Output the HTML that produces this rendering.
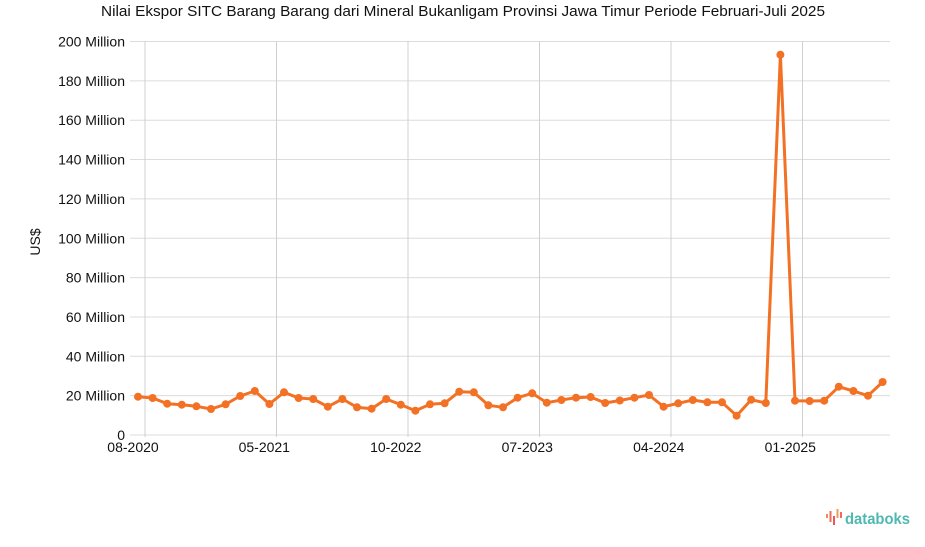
<!DOCTYPE html>
<html><head><meta charset="utf-8"><style>
html,body{margin:0;padding:0;background:#fff;}
svg{display:block;font-family:"Liberation Sans",sans-serif;}
</style></head><body>
<svg width="925" height="547" viewBox="0 0 925 547" xmlns="http://www.w3.org/2000/svg">
<rect width="925" height="547" fill="#fff"/>
<text x="463" y="16" font-size="14.5" text-anchor="middle" fill="#111" textLength="724" lengthAdjust="spacingAndGlyphs">Nilai Ekspor SITC Barang Barang dari Mineral Bukanligam Provinsi Jawa Timur Periode Februari-Juli 2025</text>
<g stroke="#dcdcdc" stroke-width="1">
<line x1="130" x2="890" y1="41.5" y2="41.5"/>
<line x1="130" x2="890" y1="80.85" y2="80.85"/>
<line x1="130" x2="890" y1="120.2" y2="120.2"/>
<line x1="130" x2="890" y1="159.55" y2="159.55"/>
<line x1="130" x2="890" y1="198.9" y2="198.9"/>
<line x1="130" x2="890" y1="238.25" y2="238.25"/>
<line x1="130" x2="890" y1="277.6" y2="277.6"/>
<line x1="130" x2="890" y1="316.95" y2="316.95"/>
<line x1="130" x2="890" y1="356.3" y2="356.3"/>
<line x1="130" x2="890" y1="395.65" y2="395.65"/>
<line x1="130" x2="890" y1="435" y2="435"/>
</g>
<g stroke="#d0d0d0" stroke-width="1">
<line x1="145" x2="145" y1="41.5" y2="437"/>
<line x1="276.5" x2="276.5" y1="41.5" y2="437"/>
<line x1="408" x2="408" y1="41.5" y2="437"/>
<line x1="539.5" x2="539.5" y1="41.5" y2="437"/>
<line x1="671" x2="671" y1="41.5" y2="437"/>
<line x1="802.5" x2="802.5" y1="41.5" y2="437"/>
</g>
<g font-size="14" fill="#111" text-anchor="end">
<text x="125" y="46.5">200 Million</text>
<text x="125" y="85.85">180 Million</text>
<text x="125" y="125.2">160 Million</text>
<text x="125" y="164.55">140 Million</text>
<text x="125" y="203.9">120 Million</text>
<text x="125" y="243.25">100 Million</text>
<text x="125" y="282.6">80 Million</text>
<text x="125" y="321.95">60 Million</text>
<text x="125" y="361.3">40 Million</text>
<text x="125" y="400.65">20 Million</text>
<text x="125" y="440">0</text>
</g>
<text transform="translate(40,242) rotate(-90)" font-size="14" fill="#111" text-anchor="middle">US$</text>
<g font-size="14" fill="#111" text-anchor="middle">
<text x="133" y="452">08-2020</text>
<text x="264.3" y="452">05-2021</text>
<text x="395.8" y="452">10-2022</text>
<text x="527.3" y="452">07-2023</text>
<text x="658.8" y="452">04-2024</text>
<text x="790.3" y="452">01-2025</text>
</g>
<polyline fill="none" stroke="#f37124" stroke-width="3" stroke-linejoin="round" points="138,396.7 152.6,398 167.2,403.7 181.8,404.7 196.4,406.3 211,409 225.6,404.3 240.2,396 254.8,391 269.4,404 284,392.3 298.6,398 313.2,399 327.8,406.7 342.4,399 357,407.3 371.6,408.7 386.2,399 400.8,404.7 415.4,410.7 430,404.3 444.6,403.3 459.2,391.7 473.8,392.3 488.4,405.3 503,407.3 517.6,397.7 532.2,393.3 546.8,402.7 561.4,400 576,397.7 590.6,397 605.2,403 619.8,400.5 634.4,397.7 649,395 663.6,406.7 678.2,403.3 692.8,400 707.4,402.3 722,402.3 736.6,415.7 751.2,399.7 765.8,403 780.4,54.7 795,400.7 809.6,401 824.2,400.7 838.8,386.7 853.4,391 868,395.7 882.6,382"/>
<g fill="#f37124">
<circle cx="138" cy="396.7" r="4"/><circle cx="152.6" cy="398" r="4"/><circle cx="167.2" cy="403.7" r="4"/><circle cx="181.8" cy="404.7" r="4"/><circle cx="196.4" cy="406.3" r="4"/><circle cx="211" cy="409" r="4"/><circle cx="225.6" cy="404.3" r="4"/><circle cx="240.2" cy="396" r="4"/><circle cx="254.8" cy="391" r="4"/><circle cx="269.4" cy="404" r="4"/><circle cx="284" cy="392.3" r="4"/><circle cx="298.6" cy="398" r="4"/><circle cx="313.2" cy="399" r="4"/><circle cx="327.8" cy="406.7" r="4"/><circle cx="342.4" cy="399" r="4"/><circle cx="357" cy="407.3" r="4"/><circle cx="371.6" cy="408.7" r="4"/><circle cx="386.2" cy="399" r="4"/><circle cx="400.8" cy="404.7" r="4"/><circle cx="415.4" cy="410.7" r="4"/><circle cx="430" cy="404.3" r="4"/><circle cx="444.6" cy="403.3" r="4"/><circle cx="459.2" cy="391.7" r="4"/><circle cx="473.8" cy="392.3" r="4"/><circle cx="488.4" cy="405.3" r="4"/><circle cx="503" cy="407.3" r="4"/><circle cx="517.6" cy="397.7" r="4"/><circle cx="532.2" cy="393.3" r="4"/><circle cx="546.8" cy="402.7" r="4"/><circle cx="561.4" cy="400" r="4"/><circle cx="576" cy="397.7" r="4"/><circle cx="590.6" cy="397" r="4"/><circle cx="605.2" cy="403" r="4"/><circle cx="619.8" cy="400.5" r="4"/><circle cx="634.4" cy="397.7" r="4"/><circle cx="649" cy="395" r="4"/><circle cx="663.6" cy="406.7" r="4"/><circle cx="678.2" cy="403.3" r="4"/><circle cx="692.8" cy="400" r="4"/><circle cx="707.4" cy="402.3" r="4"/><circle cx="722" cy="402.3" r="4"/><circle cx="736.6" cy="415.7" r="4"/><circle cx="751.2" cy="399.7" r="4"/><circle cx="765.8" cy="403" r="4"/><circle cx="780.4" cy="54.7" r="4"/><circle cx="795" cy="400.7" r="4"/><circle cx="809.6" cy="401" r="4"/><circle cx="824.2" cy="400.7" r="4"/><circle cx="838.8" cy="386.7" r="4"/><circle cx="853.4" cy="391" r="4"/><circle cx="868" cy="395.7" r="4"/><circle cx="882.6" cy="382" r="4"/>
</g>
<g>
<rect x="826" y="514" width="2" height="4" fill="#f08a5d"/>
<rect x="829.5" y="511" width="2" height="11" fill="#ee6c5a"/>
<rect x="833" y="516" width="2" height="9" fill="#e85a5a"/>
<rect x="836.5" y="509" width="2" height="9" fill="#f29a5c"/>
<rect x="840" y="512" width="2" height="6" fill="#ee6c5a"/>
<text x="845" y="524" font-size="15.5" font-weight="bold" fill="#4fb8b2" textLength="65" lengthAdjust="spacingAndGlyphs">databoks</text>
</g>
</svg>
</body></html>
